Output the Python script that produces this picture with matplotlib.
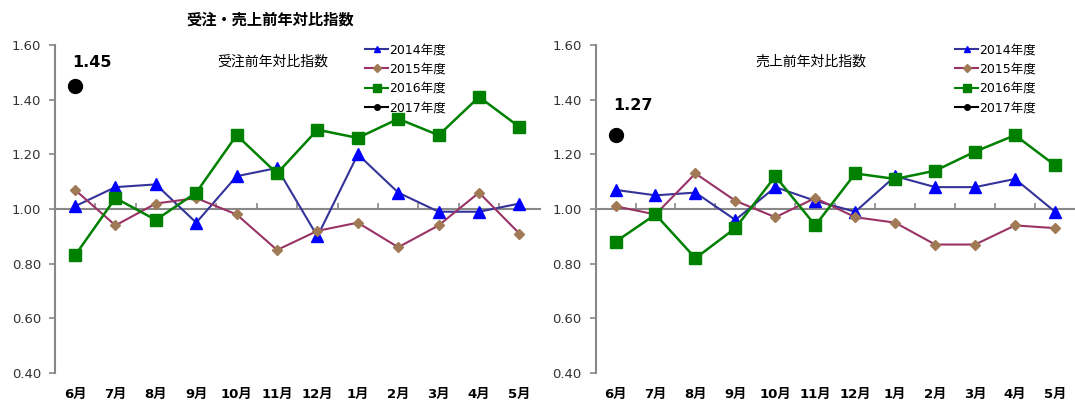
import matplotlib
matplotlib.use('Agg')
import matplotlib.pyplot as plt
import matplotlib.transforms as mtransforms

plt.rcParams['font.family'] = ['DejaVu Sans', 'Noto Sans CJK JP']

months = ['6月', '7月', '8月', '9月', '10月', '11月', '12月', '1月', '2月', '3月', '4月', '5月']
years = ['2014年度', '2015年度', '2016年度', '2017年度']

# 受注前年対比指数
order_2014 = [1.01, 1.08, 1.09, 0.95, 1.12, 1.15, 0.90, 1.20, 1.06, 0.99, 0.99, 1.02]
order_2015 = [1.07, 0.94, 1.02, 1.04, 0.98, 0.85, 0.92, 0.95, 0.86, 0.94, 1.06, 0.91]
order_2016 = [0.83, 1.04, 0.96, 1.06, 1.27, 1.13, 1.29, 1.26, 1.33, 1.27, 1.41, 1.30]
order_2017 = [1.45]

# 売上前年対比指数
sales_2014 = [1.07, 1.05, 1.06, 0.96, 1.08, 1.03, 0.99, 1.12, 1.08, 1.08, 1.11, 0.99]
sales_2015 = [1.01, 0.98, 1.13, 1.03, 0.97, 1.04, 0.97, 0.95, 0.87, 0.87, 0.94, 0.93]
sales_2016 = [0.88, 0.98, 0.82, 0.93, 1.12, 0.94, 1.13, 1.11, 1.14, 1.21, 1.27, 1.16]
sales_2017 = [1.27]

styles = [
    dict(color='#333399', marker='^', markerfacecolor='#0000ff', markeredgecolor='#0000ff', markersize=8, lw=1.5),
    dict(color='#993366', marker='D', markerfacecolor='#a07a55', markeredgecolor='#a07a55', markersize=5.5, lw=1.5),
    dict(color='#008000', marker='s', markerfacecolor='#008000', markeredgecolor='#008000', markersize=8.5, lw=1.8),
    dict(color='black', marker='o', markerfacecolor='black', markeredgecolor='black', markersize=10, lw=2),
]
legend_marker_sizes = [5, 4, 6, 4]

fig = plt.figure(figsize=(10.75, 4), dpi=100)
ax1 = fig.add_axes([0.051, 0.0675, 0.451, 0.82])
ax2 = fig.add_axes([0.554, 0.0675, 0.446, 0.82])


def draw_panel(ax, series, subtitle, label_val, label_pos, legend_x):
    x = list(range(len(months)))
    for vals, st in zip(series, styles):
        ax.plot(x[:len(vals)], vals, clip_on=False, **st)

    ax.set_xlim(-0.5, len(months) - 0.5)
    ax.set_ylim(0.40, 1.60)
    ax.set_yticks([0.40, 0.60, 0.80, 1.00, 1.20, 1.40, 1.60])
    ax.set_yticklabels(['%.2f' % v for v in ax.get_yticks()], color='#333333', fontsize=9.5)
    ax.tick_params(axis='y', length=4, color='#888888', width=1.2, pad=6)

    for s in ['top', 'right']:
        ax.spines[s].set_visible(False)
    ax.spines['left'].set_color('#888888')
    ax.spines['left'].set_linewidth(1.5)
    # 横軸は1.00の位置、区切り目盛り付き
    ax.spines['bottom'].set_position(('data', 1.0))
    ax.spines['bottom'].set_color('#888888')
    ax.spines['bottom'].set_linewidth(1.5)
    ax.spines['bottom'].set_zorder(0.5)
    ax.set_xticks([i + 0.5 for i in range(len(months) - 1)])
    ax.set_xticklabels([])
    ax.tick_params(axis='x', direction='in', length=4, color='#888888', width=1.2)

    trans = mtransforms.blended_transform_factory(ax.transData, ax.transAxes)
    for i, m in enumerate(months):
        ax.text(i, -0.065, m, transform=trans, ha='center', va='center',
                fontsize=9.5, fontweight='bold', family=['DejaVu Sans', 'Noto Sans CJK JP'])

    ax.text(0.45, 0.95, subtitle, transform=ax.transAxes, ha='center', va='center',
            fontsize=10, family=['Noto Sans CJK JP'])
    ax.text(label_pos[0], label_pos[1], '%.2f' % label_val, ha='left', va='center',
            fontsize=11.5, fontweight='bold')

    handles = []
    for st, ms in zip(styles, legend_marker_sizes):
        h, = ax.plot([], [], color=st['color'], marker=st['marker'], markerfacecolor=st['markerfacecolor'],
                     markeredgecolor=st['markeredgecolor'], markersize=ms, lw=1.5)
        handles.append(h)
    ax.legend(handles, years, loc='upper left', bbox_to_anchor=(legend_x, 1.02), frameon=False,
              handlelength=1.8, handletextpad=0.1, labelspacing=0.5, borderaxespad=0,
              prop={'family': ['DejaVu Sans', 'Noto Sans CJK JP'], 'size': 9})


draw_panel(ax1, [order_2014, order_2015, order_2016, order_2017], '受注前年対比指数',
           order_2017[0], (-0.08, 1.535), 0.63)
draw_panel(ax2, [sales_2014, sales_2015, sales_2016, sales_2017], '売上前年対比指数',
           sales_2017[0], (-0.05, 1.38), 0.74)

fig.text(0.251, 0.952, '受注・売上前年対比指数', ha='center', va='center', fontsize=11,
         fontweight='bold', family=['Noto Sans CJK JP'])

fig.savefig('out.png', dpi=100)
